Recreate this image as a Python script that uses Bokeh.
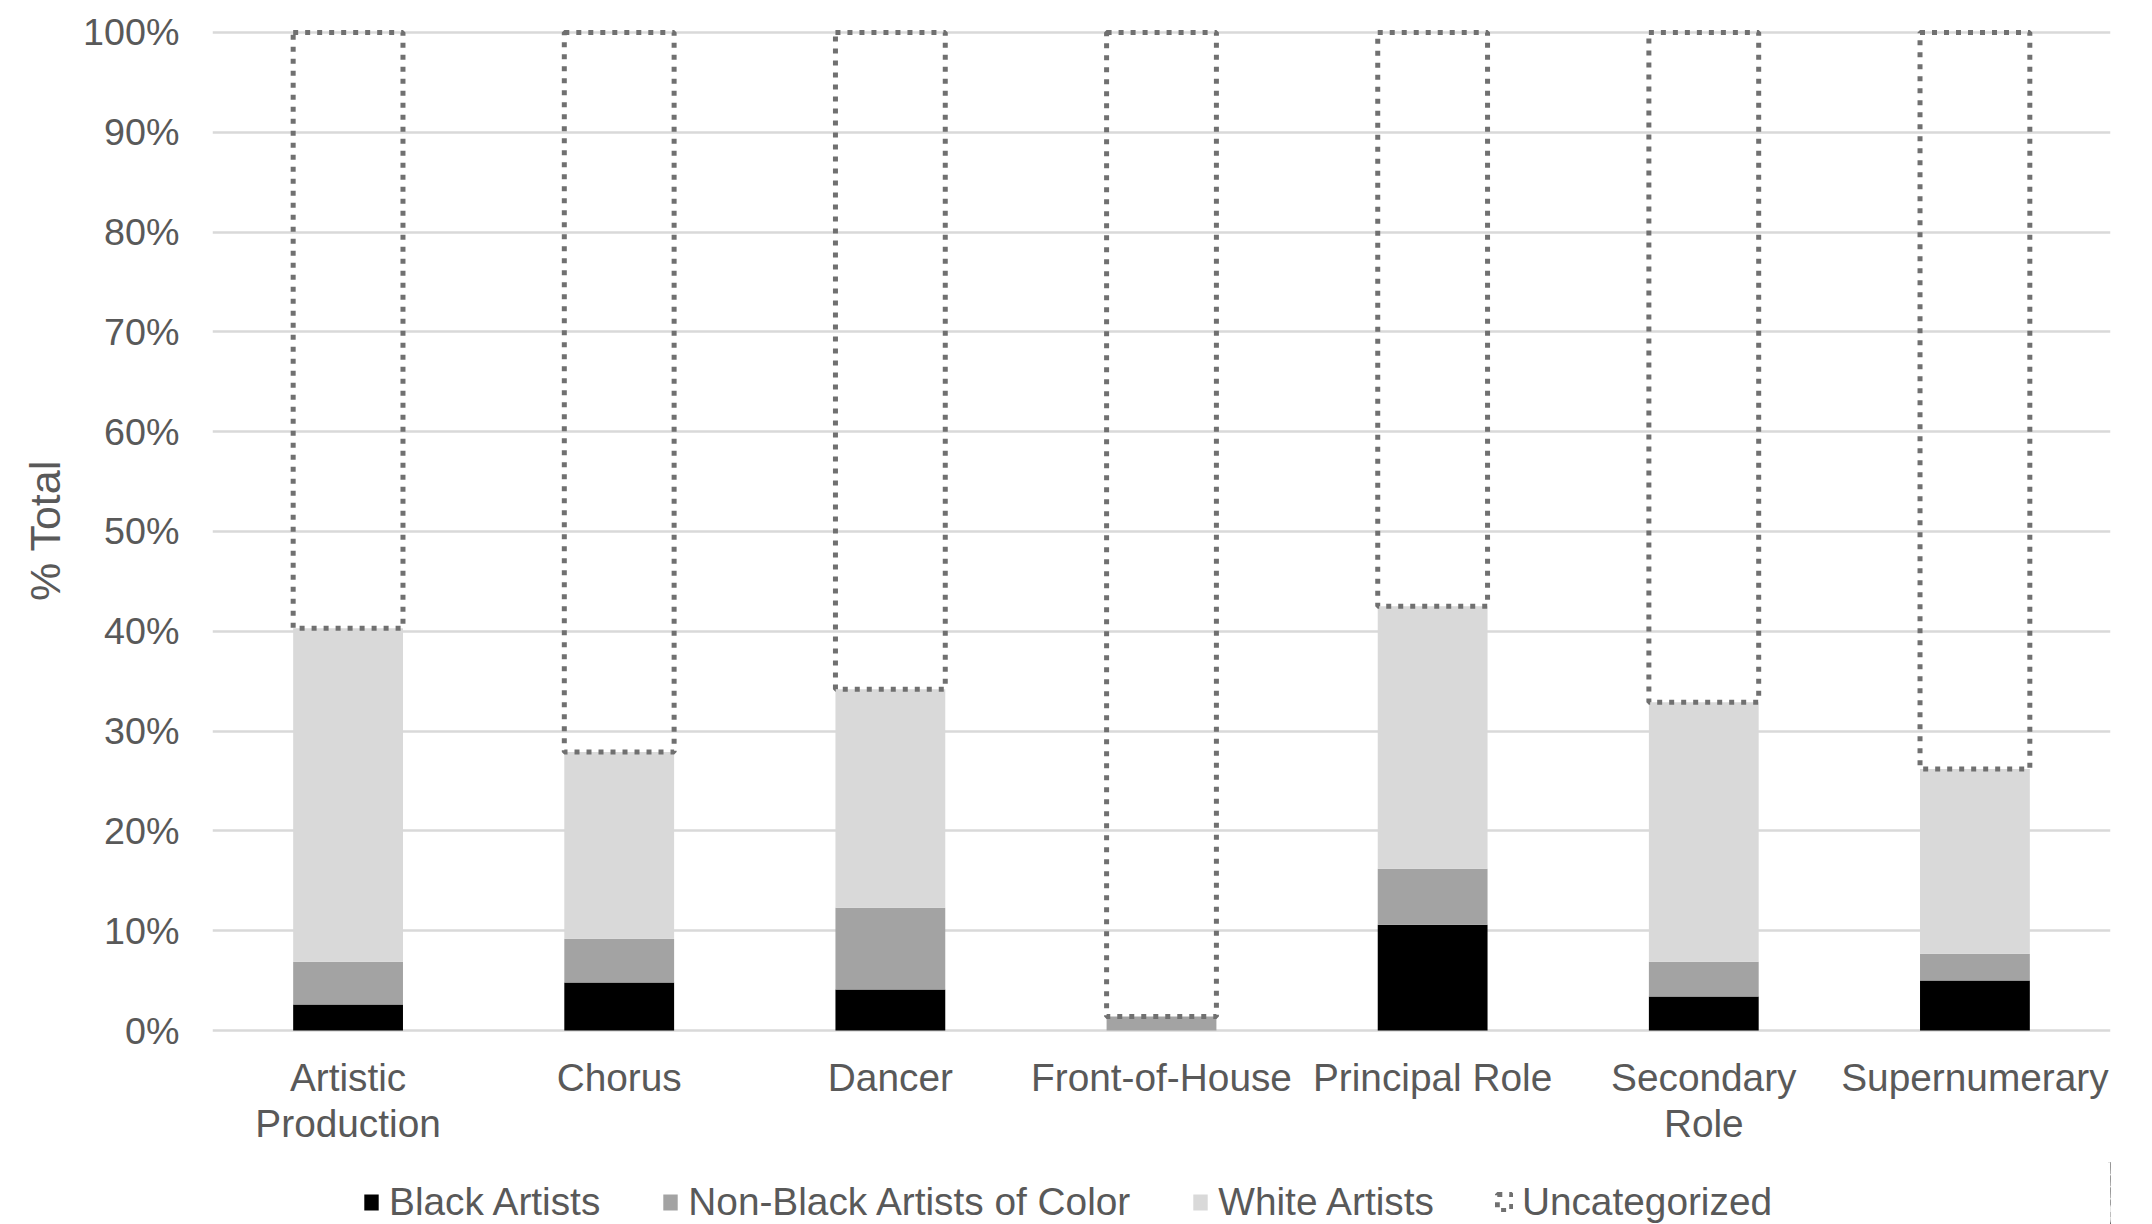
from bokeh.plotting import figure
from bokeh.layouts import column
from bokeh.models import (Range1d, FixedTicker, PrintfTickFormatter, LinearAxis,
                          Legend, LegendItem, ColumnDataSource, BoxAnnotation)
from bokeh.embed import file_html
from bokeh.resources import INLINE

# ---- data (values in % of total) ----
categories = ["Artistic Production", "Chorus", "Dancer", "Front-of-House",
              "Principal Role", "Secondary Role", "Supernumerary"]
tick_labels_line1 = ["Artistic", "Chorus", "Dancer", "Front-of-House",
                     "Principal Role", "Secondary", "Supernumerary"]
tick_labels_line2 = ["Production", "", "", "", "", "Role", ""]
series_names = ["Black Artists", "Non-Black Artists of Color", "White Artists", "Uncategorized"]
black_artists = [2.6, 4.8, 4.1, 0.0, 10.6, 3.4, 5.0]
non_black_artists_of_color = [4.3, 4.4, 8.2, 1.4, 5.6, 3.5, 2.7]
white_artists = [33.4, 18.7, 21.9, 0.0, 26.3, 26.0, 18.5]
uncategorized = [59.7, 72.1, 65.8, 98.6, 57.5, 67.1, 73.8]
y_ticks = [0, 10, 20, 30, 40, 50, 60, 70, 80, 90, 100]

FONT = "Liberation Sans"
TXT = "#595959"
STACK = ["black", "nbaoc", "white", "uncat"]
STYLE = dict(
    fill_color=["#000000", "#a3a3a3", "#d9d9d9", "#ffffff"],
    fill_alpha=[1, 1, 1, 0],
    line_color=[None, None, None, "#707070"],
    line_width=[0, 0, 0, 5],
    line_dash=["solid", "solid", "solid", "5 7"],
)
W = 2144
N = len(categories)

# category slot centres on a 0..N axis (one unit per category)
x_pos = [i + 0.5 for i in range(N)]

source = ColumnDataSource(dict(
    x=x_pos,
    cat=categories,
    black=black_artists,
    nbaoc=non_black_artists_of_color,
    white=white_artists,
    uncat=uncategorized,
))

p = figure(width=W, height=1162, output_backend="svg", toolbar_location=None,
           x_range=Range1d(0, N),
           y_range=Range1d(-0.4, 100.6),
           min_border_left=212, min_border_right=34,
           min_border_top=26, min_border_bottom=128)
p.title.visible = False
p.outline_line_color = None
p.background_fill_color = "white"
p.border_fill_color = "white"

renderers = p.vbar_stack(STACK, x="x", width=0.405, source=source, **STYLE)

def style_x(ax, labels, standoff):
    ax.ticker = FixedTicker(ticks=x_pos)
    ax.major_label_overrides = {x: t for x, t in zip(x_pos, labels)}
    ax.axis_line_color = None
    ax.major_tick_line_color = None
    ax.minor_tick_line_color = None
    ax.major_tick_out = 0
    ax.major_tick_in = 0
    ax.major_label_standoff = standoff
    ax.major_label_text_font = FONT
    ax.major_label_text_font_size = "38.8px"
    ax.major_label_text_color = TXT
    ax.major_label_text_align = "center"

style_x(p.xaxis[0], tick_labels_line1, 21)
xaxis2 = LinearAxis()
style_x(xaxis2, tick_labels_line2, 0)
p.add_layout(xaxis2, "below")

p.yaxis.ticker = FixedTicker(ticks=y_ticks)
p.yaxis.formatter = PrintfTickFormatter(format="%d%%")
p.yaxis.axis_line_color = None
p.yaxis.major_tick_line_color = None
p.yaxis.minor_tick_line_color = None
p.yaxis.major_tick_out = 0
p.yaxis.major_label_standoff = 33
p.yaxis.major_label_text_font = FONT
p.yaxis.major_label_text_font_size = "37.7px"
p.yaxis.major_label_text_color = TXT
p.yaxis.axis_label = "% Total"
p.yaxis.axis_label_text_font = FONT
p.yaxis.axis_label_text_font_size = "43px"
p.yaxis.axis_label_text_font_style = "normal"
p.yaxis.axis_label_text_color = TXT
p.yaxis.axis_label_standoff = 11

p.xgrid.grid_line_color = None
p.ygrid.grid_line_color = "#d9d9d9"
p.ygrid.grid_line_width = 2.5

# ---- legend strip below the chart (its bars sit beyond its view, masked) ----
lg = figure(width=W, height=62, output_backend="svg", toolbar_location=None,
            x_range=Range1d(-2 * N, -N), y_range=Range1d(0, 100),
            x_axis_location=None, y_axis_location=None, min_border=0)
lg.title.visible = False
lg.outline_line_color = None
lg.xgrid.grid_line_color = None
lg.ygrid.grid_line_color = None
lg.grid.visible = False
lg.background_fill_color = "white"
lg.border_fill_color = "white"

legend_renderers = lg.vbar_stack(STACK, x="x", width=0.405, source=source, **STYLE)

# white mask over the strip's plotting area, drawn under the legend
lg.add_layout(BoxAnnotation(fill_color="white", fill_alpha=1.0, line_color=None))

legend = Legend(
    items=[LegendItem(label=n, renderers=[r]) for n, r in zip(series_names, legend_renderers)],
    location=(150, 0), orientation="horizontal",
    padding=0, margin=0, spacing=61, label_standoff=9,
    glyph_width=18, glyph_height=20,
    border_line_color=None, background_fill_alpha=0,
    label_text_font=FONT, label_text_font_size="38.8px", label_text_color=TXT,
)
lg.add_layout(legend, "center")

layout = column(p, lg, spacing=0)
open("out.html", "w").write(file_html(layout, INLINE))
